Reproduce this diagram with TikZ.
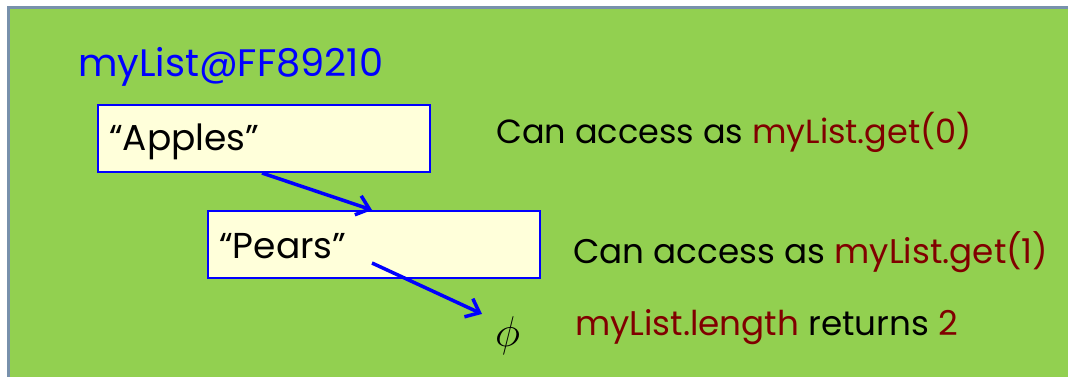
\RequirePackage{fix-cm}
\documentclass[tikz,border=0pt]{standalone}
\usepackage{fontspec}
\setmainfont{Poppins}
\usetikzlibrary{arrows.meta,calc}
\definecolor{slidegreen}{RGB}{146,208,80}
\definecolor{frameblue}{RGB}{120,145,172}
\definecolor{cellfill}{RGB}{255,255,218}
\definecolor{codered}{RGB}{128,0,0}
\definecolor{ptrblue}{RGB}{0,0,255}
\tikzset{
  cell/.style={draw=ptrblue, line width=2pt, fill=cellfill, rectangle,
    anchor=north west, inner sep=0pt},
  txt/.style={anchor=base west, inner sep=0pt, font=\fontsize{33.5}{40}\selectfont},
  celltxt/.style={anchor=base west, inner sep=0pt, font=\fontsize{36}{43}\selectfont},
  ptr/.style={draw=ptrblue, line width=3.5pt,
    -{Straight Barb[length=12pt,width=20pt,line width=3.5pt]}},
}
\begin{document}
\begin{tikzpicture}[x=1pt,y=-1pt]
  \useasboundingbox (0,0) rectangle (1068,377);
  % slide panel
  \fill[white] (0,0) rectangle (1068,377);
  \fill[slidegreen] (8.5,7.5) rectangle (1068,377);
  \draw[frameblue, line width=3pt] (8.5,380) -- (8.5,7.5) -- (1070,7.5);

  % variable name
  \node[txt, text=ptrblue, font=\fontsize{38.3}{45}\selectfont] (name) at (78,77) {myList@FF89210};

  % list cells
  \node[cell, minimum width=332pt, minimum height=67pt] (apples) at (97,104) {};
  \node[celltxt] (applestxt) at (109,150) {“Apples”};
  \node[cell, minimum width=332pt, minimum height=67pt] (pears) at (207,210) {};
  \node[celltxt] (pearstxt) at (219,258) {“Pears”};

  % end of list
  \node[anchor=base west, inner sep=0pt, font=\fontsize{43}{47}\selectfont] (nil) at (495,346) {$\phi$};

  % annotations
  \node[txt] (get0) at (496,144) {Can access as \textcolor{codered}{myList.get(0)}};
  \node[txt, font=\fontsize{34.2}{40}\selectfont] (get1) at (573,263) {Can access as \textcolor{codered}{myList.get(1)}};
  \node[txt, font=\fontsize{34.2}{40}\selectfont] (len) at (575,335) {\textcolor{codered}{myList.length} returns \textcolor{codered}{2}};

  % links
  \coordinate (l1s) at ($(apples.south west)+(165,0)$);
  \coordinate (l1e) at ($(pears.north west)+(165,0)$);
  \coordinate (l2s) at ($(pears.north west)+(165,53)$);
  \coordinate (l2e) at ($(nil.north west)+(-13,-2)$);
  \draw[ptr] (l1s) -- (l1e);
  \draw[ptr] (l2s) -- (l2e);
\end{tikzpicture}
\end{document}
